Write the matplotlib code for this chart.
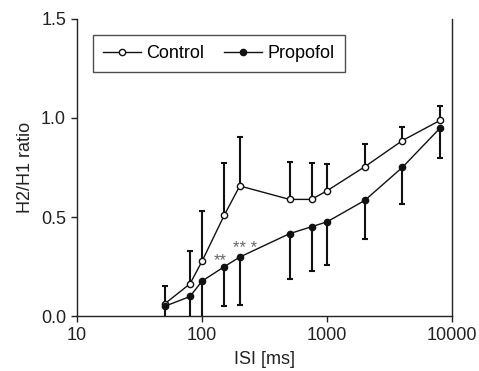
import matplotlib
matplotlib.use("Agg")
import matplotlib.pyplot as plt
import numpy as np

isi = [50, 80, 100, 150, 200, 500, 750, 1000, 2000, 4000, 8000]
control = [0.061, 0.163, 0.278, 0.508, 0.657, 0.589, 0.589, 0.633, 0.754, 0.886, 0.988]
control_upper = [0.153, 0.327, 0.529, 0.774, 0.902, 0.779, 0.773, 0.768, 0.870, 0.953, 1.061]
propofol = [0.049, 0.099, 0.177, 0.249, 0.298, 0.416, 0.451, 0.476, 0.584, 0.751, 0.949]
propofol_lower = [-0.06, -0.03, -0.03, 0.049, 0.057, 0.189, 0.229, 0.258, 0.391, 0.566, 0.796]
xticks = [10, 100, 1000, 10000]
yticks = [0.0, 0.5, 1.0, 1.5]

plt.rcParams['font.family'] = ['Liberation Sans', 'DejaVu Sans']
fig = plt.figure(figsize=(4.79, 3.71), dpi=100)
ax = fig.add_axes([0.161, 0.148, 0.783, 0.801])

c_err = [np.zeros(len(control)), np.array(control_upper) - np.array(control)]
p_err = [np.array(propofol) - np.array(propofol_lower), np.zeros(len(propofol))]

ax.errorbar(isi, control, yerr=c_err, fmt='none', ecolor='#111111', elinewidth=1.5,
            capsize=2.5, capthick=1.5, zorder=2)
ax.errorbar(isi, propofol, yerr=p_err, fmt='none', ecolor='#111111', elinewidth=1.5,
            capsize=2.5, capthick=1.5, zorder=2)
ax.plot(isi, control, '-o', color='#111111', lw=1.0, markersize=4.5,
        markerfacecolor='white', markeredgewidth=1.0, label='Control', zorder=3)
ax.plot(isi, propofol, '-o', color='#111111', lw=1.0, markersize=4.5,
        markerfacecolor='#111111', markeredgewidth=1.0, label='Propofol', zorder=3)

ax.text(140, 0.258, '**', ha='center', va='baseline', fontsize=12, color='#666666')
ax.text(221, 0.318, '** *', ha='center', va='baseline', fontsize=12, color='#666666')

ax.set_xscale('log')
ax.set_xlim(10, 10000)
ax.set_ylim(0, 1.5)
ax.set_xticks(xticks)
ax.set_xticklabels([str(t) for t in xticks])
ax.xaxis.set_minor_locator(matplotlib.ticker.NullLocator())
ax.set_yticks(yticks)
ax.set_yticklabels([f'{t:.1f}' for t in yticks])
ax.tick_params(direction='out', length=4.5, width=1, labelsize=13, colors='#222222')
ax.spines['top'].set_visible(False)
for s in ['left', 'bottom', 'right']:
    ax.spines[s].set_linewidth(1.0)
    ax.spines[s].set_color('#222222')

ax.set_xlabel('ISI [ms]', fontsize=13, color='#222222', labelpad=5)
ax.set_ylabel('H2/H1 ratio', fontsize=13, color='#222222', labelpad=5)

leg = ax.legend(loc='upper left', ncol=2, bbox_to_anchor=(0.043, 0.946), borderaxespad=0,
                fontsize=13, frameon=True, fancybox=False, edgecolor='#222222',
                handlelength=2.1, handletextpad=0.3, columnspacing=1.1, borderpad=0.55)
leg.get_frame().set_linewidth(1.0)

fig.savefig('out.png', dpi=100)
